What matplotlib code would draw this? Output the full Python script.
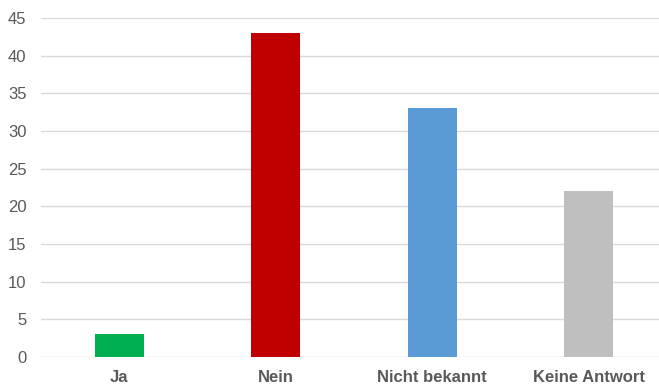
import matplotlib
matplotlib.use('Agg')
import matplotlib.pyplot as plt
import numpy as np

categories = ['Ja', 'Nein', 'Nicht bekannt', 'Keine Antwort']
values = [3, 43, 33, 22]
colors = ['#00B050', '#C00000', '#5B9BD5', '#BFBFBF']

plt.rcParams['font.family'] = ['Liberation Sans', 'DejaVu Sans']

fig = plt.figure(figsize=(6.59, 3.85), dpi=100)
ax = fig.add_axes([41 / 659, 28 / 385, 1 - 41 / 659, 339 / 385])

x = np.arange(len(categories))
ax.bar(x, values, width=0.313, color=colors, zorder=3)

ax.set_ylim(0, 45)
ax.set_xlim(-0.5, 3.45)
ax.set_yticks(range(0, 46, 5))
ax.set_xticks(x)
ax.set_xticklabels(categories, fontweight='bold')
ax.grid(axis='y', color='#D9D9D9', linewidth=1, zorder=0)
for s in ax.spines.values():
    s.set_visible(False)
ax.tick_params(axis='both', length=0, labelsize=12, labelcolor='#595959')
ax.tick_params(axis='y', pad=10.5)
ax.tick_params(axis='x', pad=9.5)

fig.savefig('out.png', dpi=100)
